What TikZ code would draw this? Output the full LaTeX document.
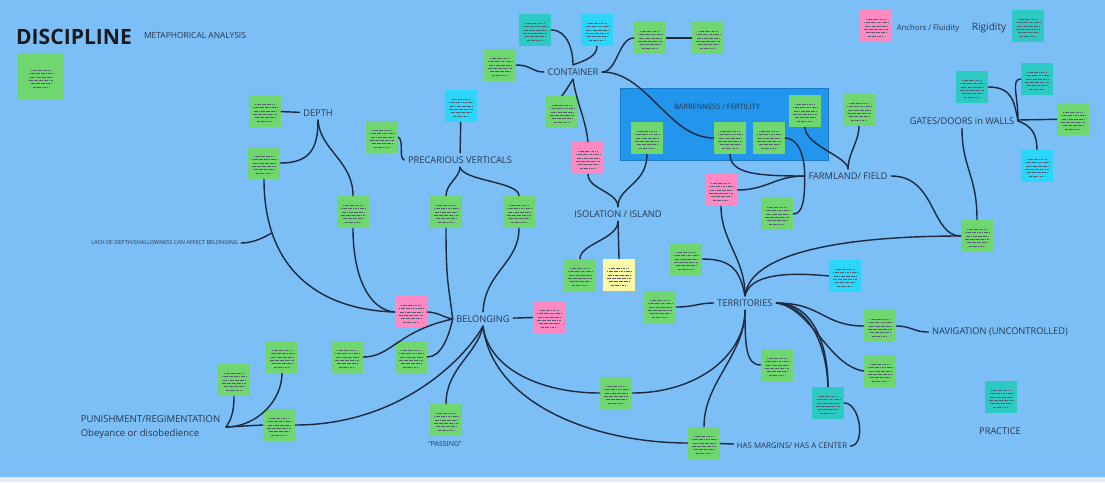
\documentclass[tikz,border=0pt]{standalone}
\usepackage{fontspec}
\setmainfont{Open Sans}
\usetikzlibrary{positioning,calc}
\definecolor{bgblue}{RGB}{123,191,246}
\definecolor{bgstrip}{RGB}{226,236,246}
\definecolor{boxblue}{RGB}{33,150,236}
\definecolor{boxedge}{RGB}{28,122,204}
\definecolor{notegreen}{RGB}{112,214,112}
\definecolor{notepink}{RGB}{255,138,193}
\definecolor{noteteal}{RGB}{44,202,194}
\definecolor{notecyan}{RGB}{44,214,250}
\definecolor{noteyellow}{RGB}{255,250,168}
\definecolor{inkc}{RGB}{42,54,76}
\definecolor{titlec}{RGB}{24,26,32}
\definecolor{linec}{RGB}{30,40,62}
\tikzset{
	notetext/.style={draw=inkc!80, line width=0.3pt, dash pattern=on 0.9pt off 0.3pt}
}
\tikzset{
	note/.style={minimum width=0.8cm, minimum height=0.8cm, inner sep=0pt,
		path picture={\foreach \k/\w in {1/.50,2/.60,3/.56,4/.62,5/.52,6/.38}
			\draw[notetext] ($(path picture bounding box.center)+({-\w*0.5cm},{0.26cm-\k*0.085cm})$) -- ++({\w*1cm},0cm);}}
}
\tikzset{
	topic/.style={font=\fontsize{6.6}{8}\selectfont, text=inkc, inner sep=2.5pt},
	smalltopic/.style={font=\fontsize{5.3}{6.5}\selectfont, text=inkc, inner sep=2pt},
	link/.style={draw=linec, line width=1pt, line cap=round}
}

\begin{document}
\begin{tikzpicture}[x=0.025cm, y=-0.025cm]
      \fill[bgblue] (0,0) rectangle (1105,477);
      \fill[bgstrip] (0,477) rectangle (1105,482);
      \useasboundingbox (0,0) rectangle (1105,482);
      \draw[fill=boxblue, draw=boxedge, line width=0.6pt] (620,88) rectangle (828,160);

      % headings and legend
      \node[font=\fontsize{15}{18}\selectfont\bfseries, text=titlec, inner sep=0pt] (title) at (74,37) {DISCIPLINE};
      \node[smalltopic, font=\fontsize{6}{7}\selectfont] (subtitle) at (195,35) {METAPHORICAL ANALYSIS};
      \node[note, fill=notegreen, minimum width=1.13cm, minimum height=1.15cm] (intro) at (41,77) {};
      \node[smalltopic, font=\fontsize{5.5}{7}\selectfont] (anchors) at (928,28) {Anchors / Fluidity};
      \node[topic, font=\fontsize{7.2}{8}\selectfont] (rigid) at (989,28) {Rigidity};

      % sticky notes
      \foreach \n/\col/\x/\y in {legAnchor/notepink/876/26, legRigid/noteteal/1028/26,
          depthA/notegreen/265/111, depthB/notegreen/264/163, depthC/notegreen/353/212,
          pinkB/notepink/411/312, belG1/notegreen/347/357, belG2/notegreen/411/357,
          pinkR/notepink/549/317, passG/notegreen/446/420, midG/notegreen/616/393,
          margG/notegreen/704/443, precL/notegreen/382/137, precTop/notecyan/461/106,
          precG1/notegreen/446/212, precG2/notegreen/519/212, contL/notegreen/500/65,
          contT/noteteal/535/30, contC/notecyan/597/30, contR1/notegreen/650/38,
          contR2/notegreen/708/38, contB/notegreen/562/112, pinkC/notepink/588/158,
          barJ/notegreen/647/138, barM/notegreen/730/138, barK/notegreen/769/138,
          barA/notegreen/805/111, farmK/notegreen/859/110, isoJ/notegreen/580/275,
          isoY/noteyellow/619/275, pinkF/notepink/721/190, farmG/notegreen/777/214,
          gatesT1/noteteal/972/87, gatesT2/noteteal/1037/79, gatesG/notegreen/1073/119,
          gatesC/notecyan/1037/166, bigG/notegreen/977/236, terrJ/notegreen/686/259,
          terrK/notegreen/660/307, terrC/notecyan/845/276, navG/notegreen/880/326,
          terrG2/notegreen/880/371, terrKD/notegreen/777/365, terrT/noteteal/828/403,
          pracT/noteteal/1001/397, punA/notegreen/234/380, punB/notegreen/282/357,
          punC/notegreen/279/425}
        \node[note, fill=\col] (\n) at (\x,\y) {};

      % themes
      \node[topic] (depth) at (318,113) {DEPTH};
      \node[topic] (prec) at (460,160) {PRECARIOUS VERTICALS};
      \node[topic] (belong) at (483,319) {BELONGING};
      \node[topic] (cont) at (573,72) {CONTAINER};
      \node[smalltopic] (barren) at (717,107) {BARRENNESS / FERTILITY};
      \node[topic] (iso) at (618,214) {ISOLATION / ISLAND};
      \node[topic] (farm) at (848,176) {FARMLAND/ FIELD};
      \node[topic] (gates) at (962,121) {GATES/DOORS in WALLS};
      \node[topic] (terr) at (745,303) {TERRITORIES};
      \node[topic] (nav) at (1000,332) {NAVIGATION (UNCONTROLLED)};
      \node[smalltopic, font=\fontsize{5.6}{7}\selectfont] (margins) at (792,446) {HAS MARGINS/ HAS A CENTER};
      \node[topic] (prac) at (1000,431) {PRACTICE};
      \node[smalltopic, font=\fontsize{5}{6}\selectfont] (passing) at (445,444) {“PASSING”};
      \node[smalltopic, font=\fontsize{3.9}{5}\selectfont, anchor=east] (lack) at (241,243) {LACK OF DEPTH/SHALLOWNESS CAN AFFECT BELONGING};
      \node[topic, align=left, anchor=west, font=\fontsize{6.8}{10}\selectfont] (pun) at (77,427) {PUNISHMENT/REGIMENTATION\\Obeyance or disobedience};
      \coordinate (lackJ) at (272,233);
      \coordinate (punJ) at (226,427);

      % depth and belonging
      \draw[link] (depthA) -- (depth);
      \draw[link] (depth.south) .. controls +(0,28) and +(30,0) .. (depthB.east);
      \draw[link] (depth.south) .. controls +(2,30) and +(0,-35) .. (depthC.north);
      \draw[link] (depthB.south) .. controls +(0,95) and +(-70,-2) .. (pinkB.west);
      \draw[link] (lack.east) .. controls +(14,0) and +(-6,3) .. (lackJ);
      \draw[link] (depthC.south) .. controls +(0,50) and +(-25,-2) .. (pinkB.west);
      \draw[link] (pinkB.east) .. controls +(10,0) and +(-10,-2) .. (belong.west);
      \draw[link] (belG1.east) .. controls +(28,0) and +(-55,12) .. (belong.west);
      \draw[link] (belG2.east) .. controls +(14,0) and +(-4,18) .. (belong.west);
      \draw[link] (precG1.south) .. controls +(0,55) and +(-4,-35) .. (belong.west);
      \draw[link] (precG2.south) .. controls +(0,35) and +(2,-40) .. (belong.north);
      \draw[link] (belong) -- (pinkR);
      \draw[link] (punC.east) .. controls +(105,0) and +(-18,32) .. (belong.south);
      \draw[link] (passG.north) .. controls +(0,-35) and +(-6,28) .. (belong.south);
      \draw[link] (belong.south) .. controls +(6,45) and +(-55,0) .. (midG.west);
      \draw[link] (belong.south) .. controls +(10,80) and +(-90,0) .. (margG.west);
      \draw[link] (punA.south) .. controls +(0,18) and +(4,-6) .. (punJ);
      \draw[link] (punB.south) .. controls +(0,28) and +(30,0) .. (punJ);
      \draw[link] (punJ) -- (punC.west);

      % precarious verticals
      \draw[link] (precL.east) .. controls +(6,4) and +(-6,-2) .. (prec.west);
      \draw[link] (precTop) -- (prec);
      \draw[link] (prec.south) .. controls +(0,10) and +(0,-12) .. (precG1.north);
      \draw[link] (prec.south) .. controls +(4,14) and +(0,-14) .. (precG2.north);

      % container, isolation
      \draw[link] (cont.south) .. controls +(4,25) and +(-3,-25) .. (pinkC.north);
      \draw[link] (cont.south) .. controls +(-4,6) and +(4,-5) .. (contB.north);
      \draw[link] (contL.east) .. controls +(15,0) and +(-12,0) .. (cont.west);
      \draw[link] (contT.east) .. controls +(16,0) and +(0,-15) .. (cont.north);
      \draw[link] (contC.south) .. controls +(0,10) and +(12,-4) .. (cont.north);
      \draw[link] (cont.east) .. controls +(15,0) and +(-15,0) .. (contR1.west);
      \draw[link] (contR1) -- (contR2);
      \draw[link] (cont.east) .. controls +(45,0) and +(-45,0) .. (barM.west);
      \draw[link] (iso.north) .. controls +(0,-15) and +(0,15) .. (pinkC.south);
      \draw[link] (iso.north) .. controls +(0,-20) and +(0,30) .. (barJ.south);
      \draw[link] (iso.south) .. controls +(0,18) and +(0,-15) .. (isoJ.north);
      \draw[link] (iso.south) -- (isoY.north);

      % farmland, gates
      \draw[link] (barM.south) .. controls +(0,20) and +(-45,0) .. (farm.west);
      \draw[link] (pinkF.east) .. controls +(30,0) and +(-30,0) .. (farm.west);
      \draw[link] (barK.east) .. controls +(12,0) and +(0,-22) .. (farm.west);
      \draw[link] (farm.west) .. controls +(0,22) and +(10,0) .. (farmG.east);
      \draw[link] (barA.south) .. controls +(0,18) and +(0,-12) .. (farm.north);
      \draw[link] (farmK.south) .. controls +(0,15) and +(0,-15) .. (farm.north);
      \draw[link] (farm.east) .. controls +(45,0) and +(-30,0) .. (bigG.west);
      \draw[link] (gates.south) .. controls +(0,40) and +(0,-45) .. (bigG.north);
      \draw[link] (gatesT1.east) .. controls +(25,0) and +(-4,-18) .. (gates.east);
      \draw[link] (gatesT2.west) .. controls +(-10,0) and +(0,-25) .. (gates.east);
      \draw[link] (gates) -- (gatesG);
      \draw[link] (gates.east) .. controls +(14,5) and +(0,-15) .. (gatesC.north);

      % territories
      \draw[link] (midG.east) .. controls +(65,0) and +(0,45) .. (terr.south);
      \draw[link] (margG) -- (margins);
      \draw[link] (margG.north) .. controls +(0,-45) and +(0,45) .. (terr.south);
      \draw[link] (terr.south) .. controls +(0,35) and +(-15,0) .. (terrKD.west);
      \draw[link] (terr.east) .. controls +(45,0) and +(-40,0) .. (navG.west);
      \draw[link] (terr.east) .. controls +(35,5) and +(-35,-5) .. (terrG2.west);
      \draw[link] (terr.east) .. controls +(35,0) and +(0,-45) .. (terrT.north);
      \draw[link] (terr.east) .. controls +(28,2) and +(-2,-50) .. (terrT.north);
      \draw[link] (navG.east) .. controls +(15,0) and +(-15,0) .. (nav.west);
      \draw[link] (terrT.east) .. controls +(16,0) and +(16,0) .. (margins.east);
      \draw[link] (terr.north) .. controls +(0,-38) and +(0,35) .. (pinkF.south);
      \draw[link] (terr.north) .. controls +(-5,-25) and +(30,0) .. (terrJ.east);
      \draw[link] (terr.north) .. controls +(5,-22) and +(-40,-4) .. (terrC.west);
      \draw[link] (terr.north) .. controls +(5,-45) and +(-110,0) .. (bigG.west);
      \draw[link] (terrK.east) .. controls +(18,0) and +(-15,0) .. (terr.west);
    \end{tikzpicture}
\end{document}
